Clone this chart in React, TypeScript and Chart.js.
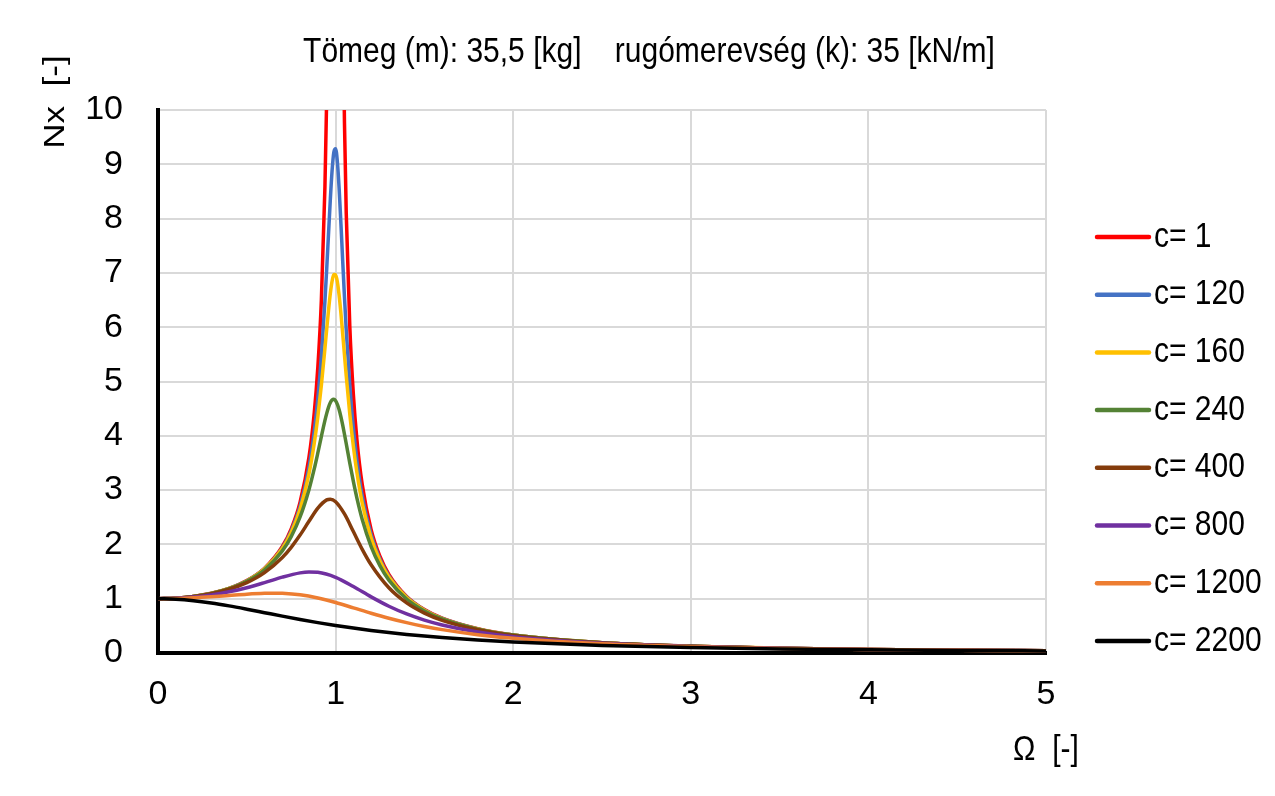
import { useEffect, useRef } from "react";
import { Chart, registerables } from "chart.js";

Chart.register(...registerables);

// ---- data ----
const TITLE = "Tömeg (m): 35,5 [kg]    rugómerevség (k): 35 [kN/m]";
const X_TITLE = "Ω  [-]";
const Y_TITLE = "Nx  [-]";

const seriesLabels = ["c= 1", "c= 120", "c= 160", "c= 240", "c= 400", "c= 800", "c= 1200", "c= 2200"];
const seriesColors = ["#FF0000", "#4472C4", "#FFC000", "#548235", "#843C0C", "#7030A0", "#ED7D31", "#000000"];

const omegaSharp = [0, 0.1, 0.2, 0.3, 0.4, 0.5, 0.6, 0.7, 0.75, 0.8, 0.85, 0.88, 0.9, 0.92, 0.94, 0.95, 0.96, 0.97, 0.98, 0.99, 1, 1.01, 1.02, 1.03, 1.04, 1.05, 1.06, 1.08, 1.1, 1.12, 1.15, 1.2, 1.25, 1.3, 1.4, 1.5, 1.6, 1.8, 2, 2.5, 3, 3.5, 4, 4.5, 5];
const nxC1 = [1, 1.0101, 1.0417, 1.0989, 1.1905, 1.3333, 1.5625, 1.9608, 2.2857, 2.7778, 3.6036, 4.4326, 5.2632, 6.5104, 8.5911, 10.2564, 12.7551, 16.92, 25.25, 50.25, 1114.7, 49.75, 24.75, 16.42, 12.25, 9.756, 8.091, 6.01, 4.762, 3.931, 3.101, 2.273, 1.778, 1.449, 1.042, 0.8, 0.641, 0.446, 0.333, 0.19, 0.125, 0.0889, 0.0667, 0.0519, 0.0417];
const nxC120 = [1, 1.01, 1.0414, 1.0982, 1.1889, 1.3299, 1.5546, 1.9397, 2.2477, 2.7015, 3.4223, 4.0868, 4.6887, 5.4714, 6.4833, 7.077, 7.7083, 8.3335, 8.8736, 9.2231, 9.2885, 9.0431, 8.5462, 7.904, 7.2176, 6.5535, 5.9443, 4.9261, 4.1478, 3.552, 2.8948, 2.1807, 1.729, 1.4203, 1.0291, 0.7934, 0.6372, 0.4448, 0.3325, 0.1902, 0.1249, 0.0888, 0.0666, 0.0519, 0.0417];
const nxC160 = [1, 1.01, 1.0412, 1.0977, 1.1877, 1.3273, 1.5485, 1.9238, 2.2195, 2.6464, 3.2988, 3.8676, 4.3524, 4.9367, 5.6117, 5.9654, 6.3074, 6.6111, 6.8428, 6.9691, 6.9667, 6.8324, 6.5841, 6.254, 5.8779, 5.4864, 5.1012, 4.3971, 3.8061, 3.3229, 2.7602, 2.1163, 1.6937, 1.399, 1.0196, 0.7884, 0.6342, 0.4435, 0.3318, 0.19, 0.1248, 0.0888, 0.0666, 0.0519, 0.0416];
const nxC240 = [1, 1.0099, 1.0406, 1.0961, 1.1843, 1.3198, 1.5316, 1.8804, 2.1443, 2.5057, 3.0083, 3.3943, 3.6848, 3.9895, 4.283, 4.4132, 4.5235, 4.6071, 4.6579, 4.671, 4.6444, 4.5789, 4.4783, 4.3482, 4.1958, 4.0286, 3.8528, 3.4973, 3.1593, 2.8528, 2.4595, 1.9598, 1.6037, 1.343, 0.9938, 0.7746, 0.6259, 0.4399, 0.33, 0.1895, 0.1246, 0.0887, 0.0666, 0.0519, 0.0416];

const omegaC400 = [0, 0.1, 0.2, 0.3, 0.4, 0.5, 0.6, 0.7, 0.75, 0.8, 0.85, 0.9, 0.95, 0.97, 1, 1.05, 1.1, 1.15, 1.2, 1.3, 1.4, 1.5, 1.6, 1.8, 2, 2.5, 3, 3.5, 4, 4.5, 5];
const nxC400 = [1, 1.0094, 1.0388, 1.0913, 1.1735, 1.2967, 1.481, 1.759, 1.9468, 2.1718, 2.425, 2.6687, 2.8202, 2.8322, 2.7866, 2.5608, 2.2365, 1.9093, 1.6243, 1.2006, 0.9229, 0.7348, 0.6016, 0.4289, 0.3242, 0.1878, 0.1239, 0.0883, 0.0664, 0.0518, 0.0416];

const omegaC800 = [0, 0.1, 0.2, 0.3, 0.4, 0.5, 0.6, 0.7, 0.8, 0.85, 0.9, 1, 1.1, 1.2, 1.3, 1.4, 1.5, 1.6, 1.8, 2, 2.5, 3, 3.5, 4, 4.5, 5];
const nxC800 = [1, 1.0075, 1.0302, 1.0694, 1.1265, 1.2027, 1.2964, 1.3968, 1.4756, 1.4921, 1.4852, 1.3933, 1.2241, 1.034, 0.8617, 0.7196, 0.6062, 0.5162, 0.3867, 0.3007, 0.1802, 0.1207, 0.0868, 0.0655, 0.0512, 0.0412];

const omegaC1200 = [0, 0.1, 0.2, 0.3, 0.4, 0.5, 0.6, 0.65, 0.7, 0.8, 0.9, 1, 1.1, 1.2, 1.3, 1.4, 1.5, 1.6, 1.8, 2, 2.5, 3, 3.5, 4, 4.5, 5];
const nxC1200 = [1, 1.0042, 1.0164, 1.0356, 1.0594, 1.0832, 1.0997, 1.1022, 1.099, 1.0713, 1.0128, 0.9289, 0.8315, 0.7327, 0.6409, 0.5596, 0.4897, 0.4303, 0.3376, 0.2708, 0.1695, 0.1159, 0.0843, 0.0641, 0.0504, 0.0407];

const omegaC2200 = [0, 0.1, 0.2, 0.3, 0.4, 0.5, 0.6, 0.7, 0.8, 0.9, 1, 1.1, 1.2, 1.3, 1.4, 1.5, 1.6, 1.8, 2, 2.5, 3, 3.5, 4, 4.5, 5];
const nxC2200 = [1, 0.9906, 0.9634, 0.9211, 0.8675, 0.8068, 0.7429, 0.679, 0.6175, 0.5598, 0.5067, 0.4585, 0.4151, 0.3764, 0.3419, 0.3112, 0.2839, 0.2381, 0.2017, 0.1388, 0.1005, 0.0757, 0.059, 0.0472, 0.0385];

const seriesX = [omegaSharp, omegaSharp, omegaSharp, omegaSharp, omegaC400, omegaC800, omegaC1200, omegaC2200];
const seriesY = [nxC1, nxC120, nxC160, nxC240, nxC400, nxC800, nxC1200, nxC2200];

const X_MIN = 0, X_MAX = 5, Y_MIN = 0, Y_MAX = 10;

const FONT = '"Liberation Sans", Arial, sans-serif';
const TICK_FONT = '"Liberation Sans Narrow", "Arial Narrow", "Liberation Sans", sans-serif';
const STRETCH = 1.17;

function stretchedText(ctx: CanvasRenderingContext2D, text: string, x: number, y: number, rotate = false) {
  ctx.save();
  ctx.translate(x, y);
  ctx.scale(1, STRETCH);
  if (rotate) ctx.rotate(-Math.PI / 2);
  ctx.fillText(text, 0, 0);
  ctx.restore();
}

const overlayPlugin = {
  id: "overlay",
  afterDraw(chart: any) {
    const ctx = chart.ctx as CanvasRenderingContext2D;
    const area = chart.chartArea;
    ctx.save();
    ctx.fillStyle = "#000";
    ctx.font = `30px ${FONT}`;
    ctx.textBaseline = "middle";
    ctx.textAlign = "center";
    stretchedText(ctx, TITLE, 641, 44);
    stretchedText(ctx, X_TITLE, area.right, 742);
    stretchedText(ctx, Y_TITLE, 48, 94, true);
    chart.data.datasets.forEach((ds: any, i: number) => {
      const y = 229 + i * 57.7;
      ctx.strokeStyle = ds.borderColor;
      ctx.lineWidth = 4.5;
      ctx.lineCap = "round";
      ctx.beginPath();
      ctx.moveTo(1089, y);
      ctx.lineTo(1141, y);
      ctx.stroke();
      ctx.textAlign = "left";
      stretchedText(ctx, ds.label, 1146, y);
    });
    ctx.restore();
  },
};

export default function App() {
  const ref = useRef<HTMLCanvasElement | null>(null);
  useEffect(() => {
    if (!ref.current) return;
    const datasets = seriesLabels.map((label, i) => ({
      label,
      data: seriesX[i].map((x, j) => ({ x, y: seriesY[i][j] })),
      borderColor: seriesColors[i],
      backgroundColor: seriesColors[i],
      borderWidth: 3.5,
      pointRadius: 0,
      fill: false,
      cubicInterpolationMode: "monotone" as const,
      order: seriesLabels.length - i,
    }));
    const tickFont = { size: 34, family: TICK_FONT };
    const chart = new Chart(ref.current, {
      type: "line",
      data: { datasets },
      options: {
        animation: false,
        responsive: false,
        maintainAspectRatio: false,
        layout: { padding: { left: 0, top: 102, right: 221, bottom: 0 } },
        plugins: {
          legend: { display: false },
          title: { display: false },
          tooltip: { enabled: false },
        },
        scales: {
          x: {
            type: "linear",
            min: X_MIN,
            max: X_MAX,
            ticks: { stepSize: 1, font: tickFont, color: "#000", padding: 21, maxRotation: 0 },
            grid: { color: "#D9D9D9", lineWidth: 2, drawTicks: false },
            border: { color: "#000", width: 4 },
            afterFit: (s: any) => {
              s.height = 135;
            },
          },
          y: {
            type: "linear",
            min: Y_MIN,
            max: Y_MAX,
            ticks: { stepSize: 1, font: tickFont, color: "#000", padding: 35 },
            grid: { color: "#D9D9D9", lineWidth: 2, drawTicks: false },
            border: { color: "#000", width: 4 },
            afterFit: (s: any) => {
              s.width = 150;
            },
          },
        },
      },
      plugins: [overlayPlugin],
    });
    return () => chart.destroy();
  }, []);
  return (
    <div style={{ width: 1259, height: 780 }}>
      <canvas ref={ref} width={1259} height={780} style={{ display: "block" }} />
    </div>
  );
}
